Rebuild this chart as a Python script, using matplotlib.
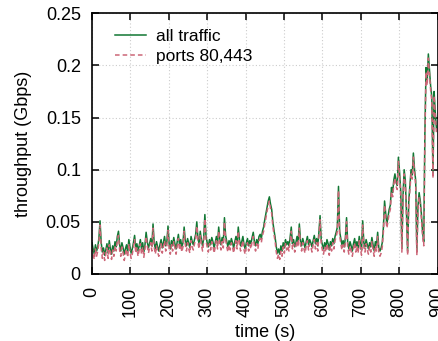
import numpy as np
import matplotlib
matplotlib.use("Agg")
import matplotlib.pyplot as plt

# throughput samples every 3 s (Gbps)
time_s = np.arange(0, 900, 3)

all_traffic = [
    0.030, 0.024, 0.019, 0.028, 0.022, 0.026, 0.034, 0.051, 0.030, 0.021,
    0.025, 0.018, 0.023, 0.029, 0.020, 0.032, 0.024, 0.019, 0.027, 0.022,
    0.031, 0.026, 0.036, 0.041, 0.028, 0.022, 0.030, 0.025, 0.019, 0.024,
    0.028, 0.021, 0.033, 0.026, 0.020, 0.024, 0.030, 0.037, 0.025, 0.029,
    0.022, 0.027, 0.033, 0.024, 0.030, 0.021, 0.028, 0.040, 0.031, 0.025,
    0.029, 0.034, 0.027, 0.048, 0.030, 0.024, 0.031, 0.026, 0.022, 0.028,
    0.033, 0.025, 0.030, 0.036, 0.027, 0.031, 0.046, 0.029, 0.024, 0.032,
    0.027, 0.035, 0.029, 0.024, 0.031, 0.038, 0.028, 0.033, 0.026, 0.030,
    0.045, 0.032, 0.027, 0.034, 0.029, 0.025, 0.036, 0.031, 0.028, 0.033,
    0.038, 0.050, 0.034, 0.029, 0.041, 0.032, 0.027, 0.035, 0.057, 0.036,
    0.030, 0.026, 0.033, 0.028, 0.035, 0.031, 0.025, 0.030, 0.036, 0.029,
    0.045, 0.033, 0.028, 0.035, 0.030, 0.054, 0.037, 0.031, 0.026, 0.032,
    0.028, 0.034, 0.030, 0.025, 0.031, 0.036, 0.029, 0.045, 0.033, 0.027,
    0.031, 0.036, 0.028, 0.024, 0.030, 0.034, 0.027, 0.032, 0.029, 0.035,
    0.040, 0.031, 0.027, 0.033, 0.029, 0.036, 0.038, 0.034, 0.041, 0.045,
    0.052, 0.058, 0.064, 0.070, 0.074, 0.067, 0.062, 0.050, 0.042, 0.035,
    0.026, 0.020, 0.024, 0.019, 0.027, 0.022, 0.030, 0.025, 0.033, 0.028,
    0.031, 0.027, 0.035, 0.045, 0.029, 0.033, 0.026, 0.030, 0.036, 0.031,
    0.048, 0.032, 0.027, 0.034, 0.029, 0.025, 0.031, 0.036, 0.028, 0.033,
    0.030, 0.026, 0.032, 0.037, 0.029, 0.034, 0.027, 0.040, 0.056, 0.033,
    0.028, 0.024, 0.030, 0.026, 0.033, 0.029, 0.023, 0.031, 0.027, 0.034,
    0.029, 0.036, 0.040, 0.045, 0.084, 0.041, 0.034, 0.028, 0.032, 0.026,
    0.035, 0.054, 0.030, 0.024, 0.031, 0.027, 0.022, 0.029, 0.034, 0.026,
    0.031, 0.025, 0.036, 0.029, 0.023, 0.051, 0.030, 0.026, 0.033, 0.028,
    0.024, 0.030, 0.026, 0.035, 0.028, 0.022, 0.031, 0.027, 0.040, 0.025,
    0.022, 0.025, 0.030, 0.045, 0.070, 0.058, 0.048, 0.055, 0.062, 0.066,
    0.083, 0.078, 0.090, 0.096, 0.088, 0.085, 0.112, 0.098, 0.080, 0.025,
    0.075, 0.100, 0.090, 0.060, 0.022, 0.070, 0.085, 0.100, 0.095, 0.116,
    0.100, 0.090, 0.022, 0.065, 0.078, 0.070, 0.057, 0.040, 0.031, 0.135,
    0.198, 0.185, 0.211, 0.195, 0.180, 0.170, 0.096, 0.175, 0.155, 0.140,
]

web_ports = [
    0.026, 0.019, 0.014, 0.024, 0.017, 0.022, 0.030, 0.047, 0.025, 0.015,
    0.021, 0.013, 0.019, 0.025, 0.015, 0.028, 0.020, 0.014, 0.023, 0.017,
    0.027, 0.022, 0.032, 0.037, 0.023, 0.017, 0.026, 0.020, 0.013, 0.019,
    0.024, 0.016, 0.029, 0.021, 0.015, 0.019, 0.026, 0.033, 0.020, 0.025,
    0.017, 0.023, 0.029, 0.019, 0.026, 0.016, 0.024, 0.036, 0.027, 0.020,
    0.025, 0.030, 0.022, 0.044, 0.026, 0.019, 0.027, 0.021, 0.017, 0.024,
    0.029, 0.020, 0.026, 0.032, 0.022, 0.027, 0.042, 0.024, 0.019, 0.028,
    0.022, 0.031, 0.025, 0.019, 0.027, 0.034, 0.023, 0.029, 0.021, 0.026,
    0.041, 0.028, 0.022, 0.030, 0.024, 0.020, 0.032, 0.026, 0.023, 0.029,
    0.034, 0.046, 0.030, 0.024, 0.037, 0.028, 0.022, 0.031, 0.053, 0.032,
    0.026, 0.021, 0.029, 0.023, 0.031, 0.027, 0.020, 0.026, 0.032, 0.024,
    0.041, 0.029, 0.023, 0.031, 0.025, 0.050, 0.033, 0.026, 0.021, 0.028,
    0.023, 0.030, 0.026, 0.020, 0.027, 0.032, 0.024, 0.041, 0.029, 0.022,
    0.027, 0.032, 0.023, 0.019, 0.026, 0.030, 0.022, 0.028, 0.024, 0.031,
    0.036, 0.027, 0.022, 0.029, 0.024, 0.032, 0.034, 0.030, 0.037, 0.041,
    0.048, 0.054, 0.060, 0.066, 0.070, 0.063, 0.058, 0.046, 0.038, 0.031,
    0.021, 0.015, 0.019, 0.014, 0.022, 0.017, 0.026, 0.020, 0.029, 0.023,
    0.027, 0.022, 0.031, 0.041, 0.024, 0.029, 0.021, 0.026, 0.032, 0.026,
    0.044, 0.028, 0.022, 0.030, 0.024, 0.020, 0.027, 0.032, 0.023, 0.029,
    0.026, 0.021, 0.028, 0.033, 0.024, 0.030, 0.022, 0.036, 0.052, 0.029,
    0.023, 0.019, 0.026, 0.021, 0.029, 0.024, 0.018, 0.027, 0.022, 0.030,
    0.024, 0.032, 0.036, 0.041, 0.080, 0.037, 0.029, 0.023, 0.028, 0.021,
    0.031, 0.050, 0.025, 0.019, 0.027, 0.022, 0.017, 0.024, 0.030, 0.021,
    0.027, 0.020, 0.032, 0.024, 0.018, 0.047, 0.026, 0.021, 0.029, 0.023,
    0.019, 0.026, 0.021, 0.031, 0.023, 0.017, 0.027, 0.022, 0.036, 0.020,
    0.017, 0.020, 0.026, 0.041, 0.066, 0.054, 0.044, 0.051, 0.058, 0.062,
    0.079, 0.074, 0.086, 0.092, 0.084, 0.081, 0.108, 0.094, 0.076, 0.021,
    0.071, 0.096, 0.086, 0.056, 0.018, 0.066, 0.081, 0.096, 0.091, 0.112,
    0.096, 0.086, 0.018, 0.061, 0.074, 0.066, 0.053, 0.036, 0.027, 0.131,
    0.194, 0.181, 0.207, 0.191, 0.176, 0.166, 0.092, 0.171, 0.151, 0.136,
]

x_ticks = [0, 100, 200, 300, 400, 500, 600, 700, 800, 900]
y_ticks = [0, 0.05, 0.1, 0.15, 0.2, 0.25]
y_labels = ["0", "0.05", "0.1", "0.15", "0.2", "0.25"]

plt.rcParams["font.family"] = ["Liberation Sans", "DejaVu Sans"]
plt.rcParams["font.size"] = 13

fig = plt.figure(figsize=(4.38, 3.41), dpi=100)
ax = fig.add_axes([0.210, 0.1965, 0.789, 0.7645])

ax.plot(time_s, all_traffic, color="#117733", lw=1.1, label="all traffic")
ax.plot(time_s, web_ports, color="#cc6677", lw=1.1, ls=(0, (3, 2)),
        label="ports 80,443")

ax.set_xlim(0, 900)
ax.set_ylim(0, 0.25)
ax.set_xticks(x_ticks)
ax.set_xticklabels([str(t) for t in x_ticks], rotation=90)
ax.set_yticks(y_ticks)
ax.set_yticklabels(y_labels)

ax.grid(True, ls=(0, (1, 2)), color="#cccccc", lw=0.8)
ax.tick_params(direction="in", length=5, width=1.1, top=True, right=True)
ax.tick_params(axis="x", pad=9)
ax.tick_params(axis="y", pad=8)
for s in ax.spines.values():
    s.set_linewidth(1.2)

ax.set_xlabel("time (s)", labelpad=5)
ax.set_ylabel("throughput (Gbps)", labelpad=10)

ax.legend(loc="upper left", frameon=False, handlelength=1.8,
          handletextpad=0.6, labelspacing=0.3, fontsize=12.5,
          bbox_to_anchor=(0.02, 1.0))

fig.savefig("out.png", dpi=100)
